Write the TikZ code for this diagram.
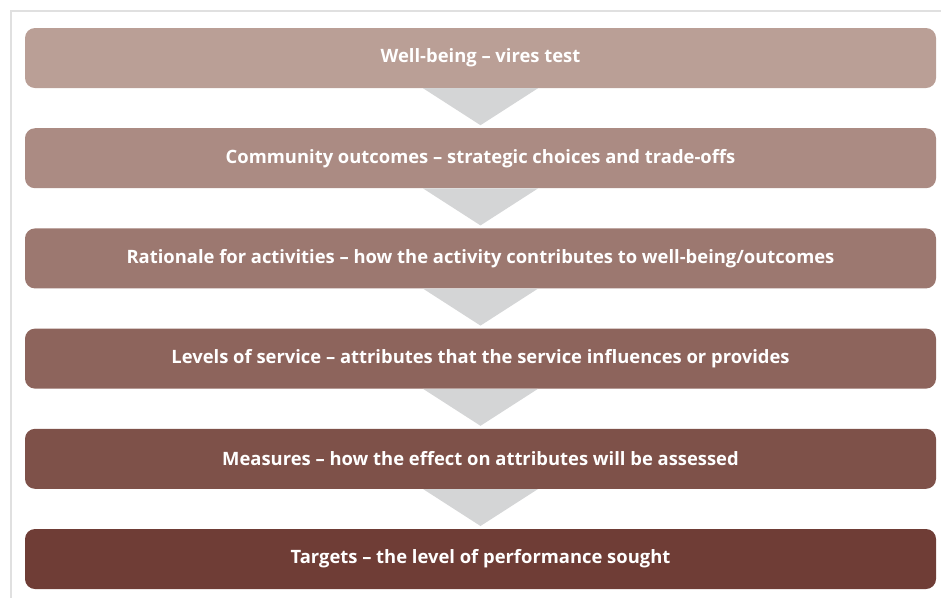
\documentclass[tikz,border=0pt]{standalone}
\usepackage{fontspec}
\setmainfont{Open Sans}
\usepackage{xcolor}
\usetikzlibrary{calc}
\definecolor{boxlight}{HTML}{BA9F96}
\definecolor{boxdark}{HTML}{6F3D36}
\definecolor{arrowgrey}{HTML}{D4D5D6}
\definecolor{framegrey}{HTML}{E0E0E0}

\begin{document}
\begin{tikzpicture}[x=1pt,y=-1pt,
	level/.style={rounded corners=10pt,minimum width=911pt,minimum height=60pt,inner sep=0pt,
		text=white,font=\bfseries\fontsize{18.4}{20}\selectfont},
	chevron/.style={fill=arrowgrey}]
	\useasboundingbox (0,0) rectangle (941,598);
	\draw[color=framegrey,line width=1.3pt] (11,598) -- (11,11) -- (941,11);
	\foreach \i/\txt in {1/{Well-being -- vires test},
		2/{Community outcomes -- strategic choices and trade-offs},
		3/{Rationale for activities -- how the activity contributes to well-being/outcomes},
		4/{Levels of service -- attributes that the service influences or provides},
		5/{Measures -- how the effect on attributes will be assessed},
		6/{Targets -- the level of performance sought}}{
		\pgfmathsetmacro{\y}{58+100.2*(\i-1)}
		\pgfmathsetmacro{\p}{100-20*(\i-1)}
		\node[level,fill=boxlight!\p!boxdark] (b\i) at (480.5,\y) {\txt};
	}
	\foreach \i in {1,...,5}{
		\fill[chevron] ($(b\i.south)+(-57.5,0)$) -- ($(b\i.south)+(57.5,0)$) -- ($(b\i.south)+(0,37)$) -- cycle;
	}
\end{tikzpicture}
\end{document}
